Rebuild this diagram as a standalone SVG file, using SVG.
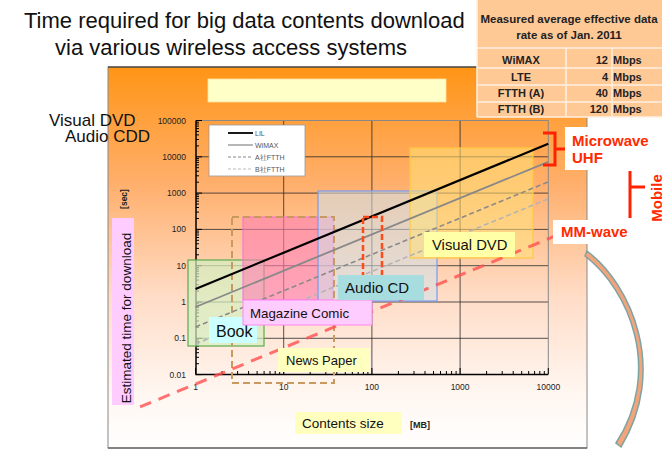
<svg xmlns="http://www.w3.org/2000/svg" xmlns:xlink="http://www.w3.org/1999/xlink" width="662" height="450" viewBox="0 0 662 450">
<defs>
<linearGradient id="bg" x1="0" y1="0" x2="0" y2="1">
<stop offset="0" stop-color="#FF9516"/>
<stop offset="0.3" stop-color="#FFAE6A"/>
<stop offset="0.6" stop-color="#FFDCC6"/>
<stop offset="0.85" stop-color="#FFF6F0"/>
<stop offset="1" stop-color="#FFFFFF"/>
</linearGradient>
<g id="yt" stroke="#000" stroke-width="1">
<path d="M196 0h6M196 -10.9h3M196 -17.3h3M196 -21.9h3M196 -25.4h3M196 -28.2h3M196 -30.7h3M196 -32.8h3M196 -34.6h3"/>
</g>
<g id="xt" stroke="#000" stroke-width="1">
<path d="M0 374v-6M26.5 374v-3M42.1 374v-3M53.1 374v-3M61.6 374v-3M68.6 374v-3M74.5 374v-3M79.7 374v-3M84.2 374v-3"/>
</g>
</defs>
<style>
.t{font-family:"Liberation Sans",Arial,sans-serif;fill:#111}
.tk{font-family:"Liberation Sans",Arial,sans-serif;font-size:8.5px;fill:#222}
.tb{font-family:"Liberation Sans",Arial,sans-serif;font-weight:bold;fill:#222}
.red{font-family:"Liberation Sans",Arial,sans-serif;font-weight:bold;fill:#FF2A00;font-size:15px}
.grid{stroke:#2a2a2a;stroke-width:0.8;fill:none}
.lg{font-family:"Liberation Sans",Arial,sans-serif;font-size:7px;fill:#555}
</style>

<!-- title -->
<g id="title">
<text class="t" x="24" y="28" font-size="22">Time required for big data contents download</text>
<text class="t" x="55" y="55" font-size="22">via various wireless access systems</text>
</g>

<!-- panel -->
<g id="panel">
<rect x="108" y="67" width="479" height="381" fill="url(#bg)" stroke="#888" stroke-width="1"/>
<line x1="108" y1="67" x2="587" y2="67" stroke="#222" stroke-width="1"/>
<line x1="108" y1="448" x2="587" y2="448" stroke="#444" stroke-width="1.2"/>
<rect x="208" y="79" width="238" height="23" fill="#FFFFC8" stroke="#FFE3A0" stroke-width="0.8"/>
</g>

<!-- table -->
<g id="table">
<rect x="477" y="0" width="185" height="117" fill="#FFC996"/>
<g stroke="#FFF0E2" stroke-width="1.5">
<line x1="477" y1="0" x2="477" y2="117"/>
<line x1="477" y1="48" x2="662" y2="48"/>
<line x1="477" y1="68" x2="662" y2="68"/>
<line x1="477" y1="85" x2="662" y2="85"/>
<line x1="477" y1="102" x2="662" y2="102"/>
<line x1="477" y1="117" x2="662" y2="117"/>
<line x1="566" y1="48" x2="566" y2="117"/>
<line x1="612" y1="48" x2="612" y2="117"/>
</g>
<text class="tb" x="569" y="23" font-size="11.5" text-anchor="middle">Measured average effective data</text>
<text class="tb" x="569" y="39" font-size="11.5" text-anchor="middle">rate as of Jan. 2011</text>
<g class="tb" font-size="11">
<text x="521" y="64" text-anchor="middle">WiMAX</text>
<text x="521" y="81" text-anchor="middle">LTE</text>
<text x="521" y="97" text-anchor="middle">FTTH (A)</text>
<text x="521" y="113" text-anchor="middle">FTTH (B)</text>
<text x="608" y="64" text-anchor="end">12</text>
<text x="608" y="81" text-anchor="end">4</text>
<text x="608" y="97" text-anchor="end">40</text>
<text x="608" y="113" text-anchor="end">120</text>
<text x="613" y="64">Mbps</text>
<text x="613" y="81">Mbps</text>
<text x="613" y="97">Mbps</text>
<text x="613" y="113">Mbps</text>
</g>
</g>

<!-- side labels -->
<g id="media-labels">
<text class="t" x="49" y="126" font-size="17">Visual DVD</text>
<text class="t" x="65" y="142" font-size="17">Audio CDD</text>
</g>

<!-- grid -->
<g id="grid">
<path class="grid" d="M196 338.3H548.3M196 302H548.3M196 265.7H548.3M196 229.4H548.3M196 193.1H548.3M196 156.8H548.3M283.7 120.5V374.6M371.9 120.5V374.6M460.1 120.5V374.6"/>
<path d="M196 120.5H548.3V374.6" fill="none" stroke="#888" stroke-width="1"/>
<path d="M196 120.5V374.6H548.3" fill="none" stroke="#000" stroke-width="1.5"/>
<use xlink:href="#yt" transform="translate(0,374.6)"/>
<use xlink:href="#yt" transform="translate(0,338.3)"/>
<use xlink:href="#yt" transform="translate(0,302)"/>
<use xlink:href="#yt" transform="translate(0,265.7)"/>
<use xlink:href="#yt" transform="translate(0,229.4)"/>
<use xlink:href="#yt" transform="translate(0,193.1)"/>
<use xlink:href="#yt" transform="translate(0,156.8)"/>
<path d="M196 120.5h6" stroke="#000"/>
<use xlink:href="#xt" transform="translate(195.5,0)"/>
<use xlink:href="#xt" transform="translate(283.7,0)"/>
<use xlink:href="#xt" transform="translate(371.9,0)"/>
<use xlink:href="#xt" transform="translate(460.1,0)"/>
<path d="M548.3 374v-6" stroke="#000"/>
</g>

<!-- tick labels -->
<g id="ticks" class="tk" text-anchor="end">
<text x="186" y="123.5">100000</text>
<text x="186" y="159.8">10000</text>
<text x="186" y="196.1">1000</text>
<text x="186" y="232.4">100</text>
<text x="186" y="268.7">10</text>
<text x="186" y="305">1</text>
<text x="186" y="341.3">0.1</text>
<text x="186" y="377.6">0.01</text>
</g>
<g class="tk" text-anchor="middle">
<text x="195.5" y="390">1</text>
<text x="283.7" y="390">10</text>
<text x="371.9" y="390">100</text>
<text x="460.1" y="390">1000</text>
<text x="548.3" y="390">10000</text>
</g>

<!-- range boxes -->
<g id="range-book"><rect x="188" y="260" width="76" height="86" fill="#D4EFC0" fill-opacity="0.7" stroke="#5DAA50" stroke-width="1.2"/></g>
<g id="range-magazine"><rect x="243" y="217" width="90" height="83" fill="#FF7FB4" fill-opacity="0.6" stroke="#FF66DD" stroke-width="1"/></g>
<g id="range-audio"><rect x="318" y="191" width="119" height="110" fill="#CFE2EC" fill-opacity="0.55" stroke="#7799EE" stroke-width="1.2"/></g>
<g id="range-visual"><rect x="410" y="148" width="123" height="110" fill="#FFE27A" fill-opacity="0.55" stroke="#FFC840" stroke-width="1.2"/></g>
<g id="range-news"><rect x="232" y="217" width="102" height="166" fill="none" stroke="#C89A60" stroke-width="2" stroke-dasharray="7 4"/></g>

<!-- connectors: rate lines -->
<g id="connectors" fill="none">
<line x1="195.5" y1="289" x2="548.3" y2="143.8" stroke="#000" stroke-width="2.2"/>
<line x1="195.5" y1="307" x2="548.3" y2="161.8" stroke="#888" stroke-width="1.8"/>
<line x1="195.5" y1="327" x2="548.3" y2="181.8" stroke="#8a8a8a" stroke-width="1.6" stroke-dasharray="5 3"/>
<line x1="195.5" y1="344" x2="548.3" y2="198.8" stroke="#b4b4b4" stroke-width="1.6" stroke-dasharray="5 3"/>
<line x1="140" y1="406.9" x2="556" y2="235.7" stroke="#FF5050" stroke-opacity="0.8" stroke-width="3" stroke-dasharray="12 8"/>
</g>

<g id="range-audio-red"><rect x="363" y="217" width="19" height="70" fill="none" stroke="#FF4A1A" stroke-width="2.5" stroke-dasharray="6 3"/></g>

<!-- labels -->
<g id="book"><rect x="209" y="317" width="48" height="26" fill="#CCFFFF"/><text class="t" x="216" y="337" font-size="16">Book</text></g>
<g id="magazine"><rect x="243" y="300" width="129" height="25" fill="#FFCCFF" stroke="#FF88EE" stroke-width="1"/><text class="t" x="250" y="318" font-size="13.3">Magazine Comic</text></g>
<g id="audio"><rect x="338" y="275" width="86" height="25" fill="#A8DDE0"/><text class="t" x="345" y="293" font-size="15">Audio CD</text></g>
<g id="visual"><rect x="424" y="232" width="91" height="25" fill="#FFFFA8"/><text class="t" x="432" y="250" font-size="14.8">Visual DVD</text></g>
<g id="news"><rect x="278" y="348" width="92" height="24" fill="#FFFFC0"/><text class="t" x="286" y="365" font-size="13">News Paper</text></g>

<!-- legend -->
<g id="legend">
<rect x="209" y="125" width="96" height="51" fill="#FFFFFF" stroke="#999" stroke-width="0.8"/>
<line x1="228" y1="133" x2="253" y2="133" stroke="#000" stroke-width="1.8"/>
<line x1="228" y1="145" x2="253" y2="145" stroke="#888" stroke-width="1.2"/>
<line x1="228" y1="157" x2="253" y2="157" stroke="#888" stroke-width="1.2" stroke-dasharray="3 2"/>
<line x1="228" y1="169" x2="253" y2="169" stroke="#bbb" stroke-width="1.2" stroke-dasharray="3 2"/>
<text class="lg" x="255" y="135.5">LIL</text>
<text class="lg" x="255" y="147.5">WiMAX</text>
<text class="lg" x="255" y="159.5">A社FTTH</text>
<text class="lg" x="255" y="171.5">B社FTTH</text>
</g>

<!-- axis titles -->
<g id="ylabel">
<rect x="112" y="218" width="22" height="187" fill="#FFCCFF"/>
<text class="t" font-size="13.5" text-anchor="middle" transform="translate(130.5,318) rotate(-90)">Estimated time for download</text>
<text class="tb" font-size="8.5" text-anchor="middle" transform="translate(127,199) rotate(-90)">[sec]</text>
</g>
<g id="xlabel">
<rect x="295" y="412" width="107" height="22" fill="#FFFFC0"/>
<text class="t" x="302" y="428" font-size="13.5">Contents size</text>
<text class="tb" x="410" y="428" font-size="9">[MB]</text>
</g>

<!-- right annotations -->
<g id="microwave">
<path d="M543 133H555V165H543M555 149H565" fill="none" stroke="#FF2200" stroke-width="3"/>
<rect x="565" y="127" width="87" height="43" fill="#FFFFFF"/>
<text class="red" x="572" y="146">Microwave</text>
<text class="red" x="572" y="163">UHF</text>
</g>
<g id="mobile">
<path d="M630 171V218M630 187H645" fill="none" stroke="#FF2200" stroke-width="3"/>
<text class="red" text-anchor="middle" transform="translate(662,198) rotate(-90)">Mobile</text>
</g>
<g id="mmwave">
<rect x="553" y="220" width="80" height="24" fill="#FFFFFF"/>
<text class="red" x="561" y="237">MM-wave</text>
</g>
<g id="curve">
<path d="M587 251C632 285 668 370 621 447L616 443C663 370 629 290 585 256Z" fill="#F2A47A" stroke="#7FA3A3" stroke-width="1.5"/>
</g>
</svg>
